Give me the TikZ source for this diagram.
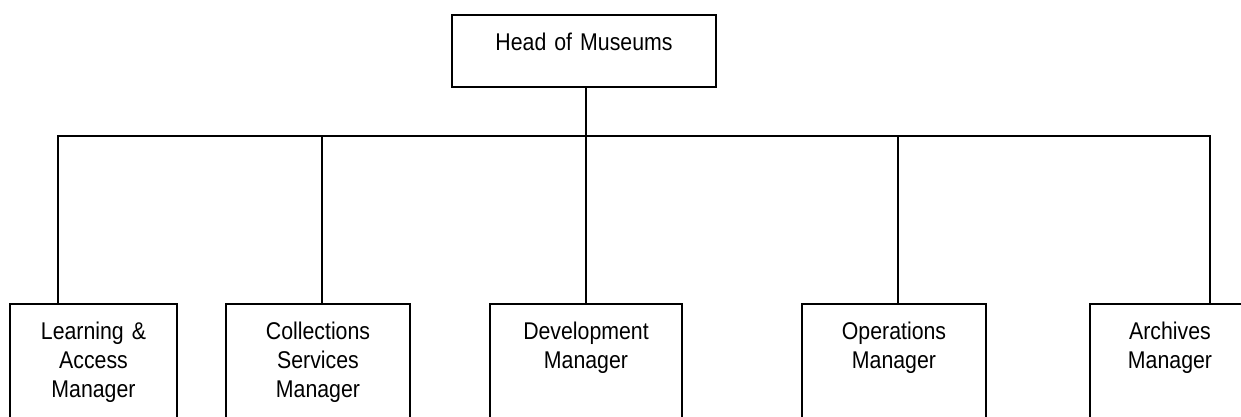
\documentclass[tikz,border=0pt]{standalone}
\usepackage{fontspec}
\setmainfont{Liberation Sans}[FakeStretch=0.88]
\begin{document}
\begin{tikzpicture}[x=1pt,y=-1pt,
  orgbox/.style={draw=black, line width=1.9pt, rectangle, anchor=north,
    inner xsep=0pt, inner ysep=0pt, align=center,
    font=\fontsize{24.2pt}{28.6pt}\selectfont, text height=36pt},
  wire/.style={draw=black, line width=1.9pt}]
\useasboundingbox (0,0) rectangle (1241,417);
\clip (0,0) rectangle (1241,417);
\fill[white] (0,0) rectangle (1241,417);
% top box
\node[orgbox, text width=264pt, text depth=36pt] (head) at (584,14) {Head of Museums};
% bottom boxes
\node[orgbox, text width=167pt, text depth=100pt] (b1) at (93.5,303) {Learning \&\\Access\\Manager};
\node[orgbox, text width=184pt, text depth=100pt] (b2) at (318,303) {Collections\\Services\\Manager};
\node[orgbox, text width=192pt, text depth=100pt] (b3) at (586,303) {Development\\Manager};
\node[orgbox, text width=184pt, text depth=100pt] (b4) at (894,303) {Operations\\Manager};
\node[orgbox, text width=160pt, text depth=100pt] (b5) at (1170,303) {Archives\\Manager};
% junctions on the bus
\coordinate (jh) at (586,136);
\coordinate (j1) at (58,136);
\coordinate (j2) at (322,136);
\coordinate (j3) at (586,136);
\coordinate (j4) at (898,136);
\coordinate (j5) at (1210,136);
% connectors
\draw[wire] (jh |- head.south) -- (jh);
\draw[wire] (j1 |- b1.north) -- (j1) -- (j5) -- (j5 |- b5.north);
\draw[wire] (j2) -- (j2 |- b2.north);
\draw[wire] (j3) -- (j3 |- b3.north);
\draw[wire] (j4) -- (j4 |- b4.north);
\end{tikzpicture}
\end{document}
